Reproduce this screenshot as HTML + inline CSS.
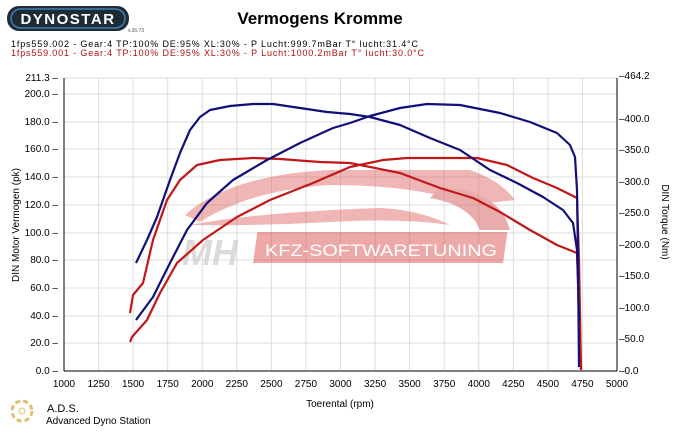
<!DOCTYPE html>
<html><head><meta charset="utf-8"><style>
body{margin:0;background:#fff;width:685px;height:428px;overflow:hidden;font-family:"Liberation Sans",sans-serif}
</style></head><body>
<svg width="685" height="428" xmlns="http://www.w3.org/2000/svg" font-family="Liberation Sans, sans-serif">
<rect width="685" height="428" fill="#fff"/>
<rect x="7" y="6" width="122" height="25" rx="12" fill="#1e2a36"/>
<rect x="11" y="9" width="114" height="19" rx="9.5" fill="none" stroke="#3f7fb0" stroke-width="1.5"/>
<text x="68" y="24" font-size="15" font-weight="bold" fill="#fff" text-anchor="middle" letter-spacing="1.5">DYNOSTAR</text>
<text x="128" y="32" font-size="5" fill="#555">v.36.73</text>
<text x="320" y="24" font-size="17" font-weight="bold" fill="#000" text-anchor="middle">Vermogens Kromme</text>
<text x="11" y="47" font-size="9" fill="#000" textLength="407" lengthAdjust="spacing">1fps559.002 - Gear:4 TP:100% DE:95% XL:30%   - P Lucht:999.7mBar T° lucht:31.4°C</text>
<text x="11" y="56" font-size="9" fill="#b01010" textLength="413" lengthAdjust="spacing">1fps559.001 - Gear:4 TP:100% DE:95% XL:30%   - P Lucht:1000.2mBar T° lucht:30.0°C</text>
<g stroke="#dcdcdc" stroke-width="1">
<line x1="64" y1="78" x2="617" y2="78"/>
<line x1="64" y1="94" x2="617" y2="94"/><line x1="64" y1="122" x2="617" y2="122"/><line x1="64" y1="149" x2="617" y2="149"/><line x1="64" y1="177" x2="617" y2="177"/><line x1="64" y1="205" x2="617" y2="205"/><line x1="64" y1="233" x2="617" y2="233"/><line x1="64" y1="260" x2="617" y2="260"/><line x1="64" y1="288" x2="617" y2="288"/><line x1="64" y1="316" x2="617" y2="316"/><line x1="64" y1="343" x2="617" y2="343"/>
<line x1="98.6" y1="78" x2="98.6" y2="371"/><line x1="133.1" y1="78" x2="133.1" y2="371"/><line x1="167.7" y1="78" x2="167.7" y2="371"/><line x1="202.3" y1="78" x2="202.3" y2="371"/><line x1="236.8" y1="78" x2="236.8" y2="371"/><line x1="271.4" y1="78" x2="271.4" y2="371"/><line x1="305.9" y1="78" x2="305.9" y2="371"/><line x1="340.5" y1="78" x2="340.5" y2="371"/><line x1="375.1" y1="78" x2="375.1" y2="371"/><line x1="409.6" y1="78" x2="409.6" y2="371"/><line x1="444.2" y1="78" x2="444.2" y2="371"/><line x1="478.8" y1="78" x2="478.8" y2="371"/><line x1="513.3" y1="78" x2="513.3" y2="371"/><line x1="547.9" y1="78" x2="547.9" y2="371"/><line x1="582.4" y1="78" x2="582.4" y2="371"/>
</g>
<g opacity="0.45">
<path d="M185,215 Q230,175 330,170 L470,170 Q500,180 515,200 L470,205 Q420,185 330,185 Q250,190 200,222 Z" fill="#e06060"/>
<path d="M190,225 Q260,212 380,208 Q420,210 450,225 Q400,218 330,222 Q260,226 190,225 Z" fill="#e06060"/>
<path d="M440,187 Q500,190 510,230 L480,230 Q470,205 430,198 Z" fill="#d04848"/>
<rect x="290" y="232" width="250" height="31" fill="#d84040" transform="skewX(-8)"/>
</g>
<text x="265" y="256" font-size="17" fill="#fff" textLength="232" lengthAdjust="spacingAndGlyphs">KFZ-SOFTWARETUNING</text>
<text x="182" y="265" font-size="36" font-weight="bold" font-style="italic" fill="#ccc" opacity="0.7">MH</text>
<g stroke="#000" stroke-width="1">
<line x1="64" y1="78" x2="64" y2="371"/><line x1="617" y1="78" x2="617" y2="371"/><line x1="64" y1="371" x2="617" y2="371"/>
</g>
<g font-size="10" fill="#000" text-anchor="end">
<text x="58" y="81">211.3 –</text><text x="58" y="97">200.0 –</text><text x="58" y="125">180.0 –</text><text x="58" y="152">160.0 –</text><text x="58" y="180">140.0 –</text><text x="58" y="208">120.0 –</text><text x="58" y="236">100.0 –</text><text x="58" y="263">80.0 –</text><text x="58" y="291">60.0 –</text><text x="58" y="319">40.0 –</text><text x="58" y="346">20.0 –</text><text x="58" y="374">0.0 –</text>
</g>
<g font-size="10" fill="#000">
<text x="619" y="79">–464.2</text><text x="619" y="122">–400.0</text><text x="619" y="153">–350.0</text><text x="619" y="185">–300.0</text><text x="619" y="216">–250.0</text><text x="619" y="248">–200.0</text><text x="619" y="279">–150.0</text><text x="619" y="311">–100.0</text><text x="619" y="342">–50.0</text><text x="619" y="374">–0.0</text>
</g>
<g font-size="10" fill="#000" text-anchor="middle">
<text x="64" y="387">1000</text><text x="98.6" y="387">1250</text><text x="133.1" y="387">1500</text><text x="167.7" y="387">1750</text><text x="202.3" y="387">2000</text><text x="236.8" y="387">2250</text><text x="271.4" y="387">2500</text><text x="305.9" y="387">2750</text><text x="340.5" y="387">3000</text><text x="375.1" y="387">3250</text><text x="409.6" y="387">3500</text><text x="444.2" y="387">3750</text><text x="478.8" y="387">4000</text><text x="513.3" y="387">4250</text><text x="547.9" y="387">4500</text><text x="582.4" y="387">4750</text><text x="617" y="387">5000</text>
<text x="340" y="407">Toerental (rpm)</text>
</g>
<text transform="translate(19,225) rotate(-90)" font-size="10" text-anchor="middle">DIN Motor Vermogen (pk)</text>
<text transform="translate(662,222) rotate(90)" font-size="10" text-anchor="middle">DIN Torque (Nm)</text>
<g fill="none" stroke-width="2.2" stroke-linejoin="round">
<polyline stroke="#c01818" points="130,342 132,337 147,320 160,293 177,263 203,240 237,217 270,200 313,183 350,167 383,160 407,158 450,158 477,158 507,165 533,178 557,188 577,198 579,260 581,370"/>
<polyline stroke="#c01818" points="130,313 133,295 143,283 153,240 167,200 180,180 197,165 220,160 253,158 280,159 320,162 350,163 400,173 440,188 473,198 500,212 530,230 557,245 577,253 579,300 581,370"/>
<polyline stroke="#10107a" points="136,320 153,297 170,263 187,230 207,203 233,180 267,160 300,143 333,128 350,123 370,116 400,108 427,104 460,105 500,113 530,122 557,133 570,145 575,157 577,190 578,257 579,367"/>
<polyline stroke="#10107a" points="136,263 147,240 157,217 170,180 180,153 190,130 200,117 210,110 230,106 253,104 273,104 300,108 327,112 350,114 370,117 400,125 430,138 460,150 490,170 517,183 543,197 563,210 573,223 577,250 578,283 579,320"/>
</g>
<circle cx="22" cy="411" r="10" fill="none" stroke="#e0c070" stroke-width="3" stroke-dasharray="5 3"/>
<circle cx="22" cy="411" r="3" fill="none" stroke="#e0c070"/>
<text x="47" y="412" font-size="11" fill="#000">A.D.S.</text>
<text x="46" y="424" font-size="10" fill="#000">Advanced Dyno Station</text>
</svg>
</body></html>
